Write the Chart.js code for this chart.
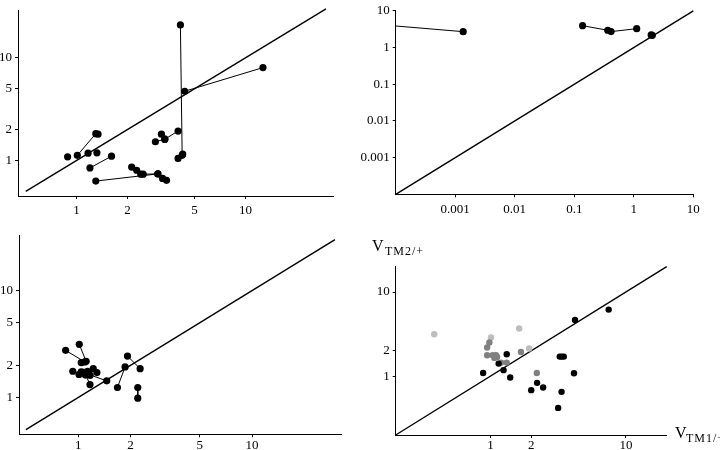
<!DOCTYPE html>
<html><head><meta charset="utf-8">
<script src="https://cdn.jsdelivr.net/npm/chart.js@4"></script>
<style>
html,body{margin:0;padding:0;background:#fff;width:720px;height:450px;overflow:hidden;position:relative;}
canvas{position:absolute;}
.lab{position:absolute;font-family:'Liberation Serif',serif;color:#000;white-space:nowrap;}
</style></head><body>
<canvas id="c1" width="360" height="225" style="left:0;top:0"></canvas>
<canvas id="c2" width="360" height="225" style="left:360px;top:0"></canvas>
<canvas id="c3" width="360" height="225" style="left:0;top:225px"></canvas>
<canvas id="c4" width="360" height="225" style="left:360px;top:225px"></canvas>
<div class="lab" style="left:372px;top:238px;font-size:16px;line-height:16px">V</div>
<div class="lab" style="left:385px;top:245px;font-size:12px;line-height:12px;letter-spacing:1px">TM2/+</div>
<div class="lab" style="left:675px;top:425px;font-size:16px;line-height:16px">V</div>
<div class="lab" style="left:686px;top:432px;font-size:12px;line-height:12px;letter-spacing:1px">TM1/+</div>
<script>
// ---------- data ----------
const ticksP1X = [1, 2, 5, 10];
const ticksP1Y = [1, 2, 5, 10];
const ticksP2 = [0.001, 0.01, 0.1, 1, 10];
const ticksP4X = [1, 2, 10];
const ticksP4Y = [1, 2, 10];

// top-left: connected groups [x, y]
const p1Chains = [
  [[4.12, 20.9], [4.22, 1.12]],
  [[12.7, 8.02], [4.37, 4.72]],
  [[1.01, 1.12], [1.30, 1.82]],
  [[1.20, 0.844], [1.61, 1.10]],
  [[1.30, 0.629], [3.03, 0.739], [3.23, 0.668], [3.41, 0.639]],
  [[2.12, 0.862], [2.27, 0.802], [2.40, 0.734], [2.48, 0.734], [3.03, 0.739]],
  [[2.93, 1.52], [3.33, 1.61], [3.99, 1.93]],
  [[3.18, 1.80], [3.33, 1.61]]
];
const p1Single = [[0.885, 1.085], [1.17, 1.175], [1.32, 1.185], [3.99, 1.045], [4.25, 1.15], [1.34, 1.80]];

// top-right
const p2Chains = [
  [[0.0001, 3.86], [0.00136, 2.7]],
  [[0.138, 3.93], [0.365, 2.95], [0.415, 2.71], [1.12, 3.26]]
];
const p2ChainRadius = [[0, 1], [1, 1, 1, 1]];
const p2Single = [[1.96, 2.2], [2.05, 2.15]];

// bottom-left
const p3Chains = [
  [[0.846, 2.76], [1.09, 2.15]],
  [[1.013, 3.14], [1.11, 2.18]],
  [[1.04, 1.74], [1.458, 1.43]],
  [[1.09, 1.70], [1.168, 1.32]],
  [[1.68, 1.24], [1.86, 1.93]],
  [[1.92, 2.44], [2.27, 1.86]],
  [[2.20, 1.24], [2.20, 0.985]]
];
const p3Single = [[0.93, 1.76], [1.01, 1.64], [1.04, 2.12], [1.07, 1.72], [1.13, 1.76], [1.22, 1.86], [1.28, 1.71], [1.17, 1.61], [1.10, 1.62]];

// bottom-right
const p4Black = [[7.46, 6.18], [4.21, 4.65], [3.25, 1.71], [3.36, 1.71], [3.48, 1.71], [4.14, 1.085], [0.884, 1.09], [1.32, 1.82], [1.15, 1.41], [1.25, 1.18], [1.40, 0.965], [2.21, 0.833], [2.0, 0.682], [2.45, 0.734], [3.35, 0.651], [3.16, 0.42]];
const p4Dark = [[2.20, 1.09], [1.68, 1.94], [0.946, 2.19], [0.983, 2.51], [0.946, 1.77], [1.04, 1.77], [1.10, 1.77], [1.07, 1.65], [1.12, 1.69], [1.20, 1.45], [1.32, 1.45]];
const p4Light = [[0.385, 3.15], [1.01, 2.88], [1.63, 3.68], [1.93, 2.13]];

// ---------- helpers ----------
const toXY = a => a.map(p => ({x: p[0], y: p[1]}));
function diag(a, b) {
  return {data: [{x: a, y: a}, {x: b, y: b}], showLine: true, borderColor: '#000', borderWidth: 1.4, pointRadius: 0, clip: false, order: 10};
}
function chain(pts, r, radii) {
  return {data: toXY(pts), showLine: true, borderColor: '#000', borderWidth: 1, backgroundColor: '#000',
    pointBackgroundColor: '#000', pointBorderWidth: 0, pointRadius: radii ? radii.map(k => k * r) : r, order: 1};
}
function dots(pts, r, col) {
  return {data: toXY(pts), showLine: false, pointBackgroundColor: col, pointBorderWidth: 0, pointRadius: r, order: 1};
}
function axis(pos, min, max, ticks, size, pad) {
  return {
    type: 'logarithmic', position: pos, min: min, max: max,
    afterBuildTicks: s => { s.ticks = ticks.map(v => ({value: v})); },
    afterFit: s => { if (pos === 'left') s.width = size; else s.height = size; },
    grid: {display: true, drawOnChartArea: false, drawTicks: true, tickLength: 3, color: '#000'},
    border: {display: true, color: '#000', width: 1},
    ticks: {autoSkip: false, maxRotation: 0, minRotation: 0, padding: pad, color: '#000',
      font: {family: 'Liberation Serif', size: 13}, callback: v => String(v)}
  };
}
function make(id, datasets, xs, ys, pad) {
  new Chart(document.getElementById(id), {
    type: 'scatter',
    data: {datasets: datasets},
    options: {
      responsive: false, animation: false, events: [],
      layout: {padding: pad},
      plugins: {legend: {display: false}, tooltip: {enabled: false}},
      scales: {x: xs, y: ys}
    }
  });
}

// panel 1
make('c1',
  [diag(0.5, 30)].concat(p1Chains.map(c => chain(c, 3.6))).concat([dots(p1Single, 3.6, '#000')]),
  axis('bottom', 0.45, 33, ticksP1X, 29, 4), axis('left', 0.45, 28.7, ticksP1Y, 18, 3),
  {top: 8, right: 27, left: 0, bottom: 0});

// panel 2
make('c2',
  [diag(0.0001, 10)].concat(p2Chains.map((c, i) => chain(c, 3.6, p2ChainRadius[i]))).concat([dots(p2Single, 3.6, '#000')]),
  axis('bottom', 0.0001, 10, ticksP2, 30.7, 4), axis('left', 0.0001, 10, ticksP2, 35.7, 3),
  {top: 10, right: 26.7, left: 0, bottom: 0});

// panel 3
make('c3',
  [diag(0.5, 30)].concat(p3Chains.map(c => chain(c, 3.6))).concat([dots(p3Single, 3.6, '#000')]),
  axis('bottom', 0.456, 32.8, ticksP1X, 15.7, 0), axis('left', 0.452, 32.6, ticksP1Y, 19, 3),
  {top: 10, right: 18.3, left: 0, bottom: 0});

// panel 4
make('c4',
  [diag(0.2, 20), dots(p4Black, 3.2, '#000'), dots(p4Dark, 3.2, '#808080'), dots(p4Light, 3.2, '#bdbdbd')],
  axis('bottom', 0.2, 20, ticksP4X, 15, 0), axis('left', 0.2, 20, ticksP4Y, 35.7, 3),
  {top: 41.7, right: 53.3, left: 0, bottom: 0});
</script>
</body></html>
